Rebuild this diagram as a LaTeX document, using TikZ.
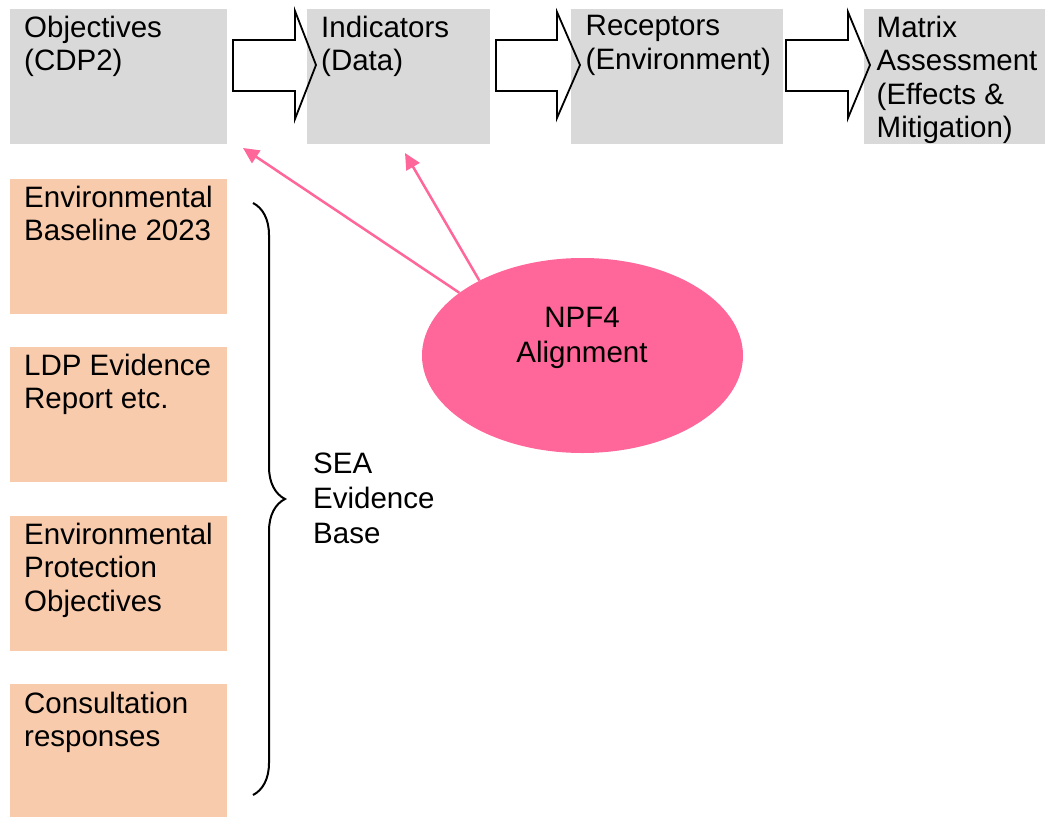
\documentclass[tikz,border=0pt]{standalone}
\usepackage{fontspec}
\setmainfont{Liberation Sans}
\usetikzlibrary{arrows.meta,calc,decorations.pathreplacing,shapes.geometric}
\definecolor{boxgrey}{HTML}{D9D9D9}
\definecolor{peach}{HTML}{F8CBAD}
\definecolor{npfpink}{HTML}{FF6699}
\tikzset{
  greybox/.style={rectangle, fill=boxgrey, draw=none, inner sep=0, anchor=north west},
  peachbox/.style={rectangle, fill=peach, draw=none, inner sep=0, anchor=north west, minimum width=217, minimum height=135},
  boxtext/.style={anchor=north west, inner sep=0, align=left, font=\fontsize{29.5}{33.6}\selectfont},
  looktext/.style={inner sep=0, font=\fontsize{29.5}{35}\selectfont},
  blockarr/.style={draw=black, line width=1.8, fill=none, line join=miter},
  pinkarr/.style={draw=npfpink, line width=2.5, -{Triangle[length=16,width=15]}},
  bracestyle/.style={draw=black, line width=2, decorate, decoration={brace, amplitude=32, aspect=0.5}}
}
\begin{document}
\begin{tikzpicture}[x=1pt, y=-1pt]
\useasboundingbox (0,0) rectangle (1045,817);
% top grey boxes
\node[greybox, minimum width=217, minimum height=135] (obj) at (10,9) {};
\node[greybox, minimum width=183, minimum height=135] (ind) at (307,9) {};
\node[greybox, minimum width=212, minimum height=135] (rec) at (571,9) {};
\node[greybox, minimum width=181, minimum height=135] (mat) at (864,9) {};
\node[boxtext] (objt) at ($(obj.north west)+(14,6.5)$) {Objectives\\(CDP2)};
\node[boxtext] (indt) at ($(ind.north west)+(14,6.5)$) {Indicators\\(Data)};
\node[boxtext] (rect) at ($(rec.north west)+(14.5,6.5)$) {Receptors\\(Environment)};
\node[boxtext] (matt) at ($(mat.north west)+(12.5,6.5)$) {Matrix\\Assessment\\(Effects \&\\Mitigation)};
% block arrows
\draw[blockarr] (233,40) -- (295,40) -- (295,11) -- (316,65) -- (295,119) -- (295,91) -- (233,91) -- cycle;
\draw[blockarr] (496,40) -- (557,40) -- (557,12) -- (580,65) -- (557,118) -- (557,91) -- (496,91) -- cycle;
\draw[blockarr] (786,40) -- (848,40) -- (848,12) -- (870,65) -- (848,118) -- (848,91) -- (786,91) -- cycle;
% peach boxes
\node[peachbox] (eb) at (10,179) {};
\node[peachbox] (ldp) at (10,347) {};
\node[peachbox] (epo) at (10,516) {};
\node[peachbox, minimum height=133] (cr) at (10,684) {};
\node[boxtext] (ebt) at ($(eb.north west)+(14,6.5)$) {Environmental\\Baseline 2023};
\node[boxtext] (ldpt) at ($(ldp.north west)+(14,6.5)$) {LDP Evidence\\Report etc.};
\node[boxtext] (epot) at ($(epo.north west)+(14,6.5)$) {Environmental\\Protection\\Objectives};
\node[boxtext] (crt) at ($(cr.north west)+(14,7.5)$) {Consultation\\responses};
% brace
\coordinate (bt) at (253,203);
\coordinate (bb) at (253,795);
\draw[bracestyle] (bt) -- (bb);
\node[looktext, anchor=north west, align=left] (sea) at (313,452.5) {SEA\\Evidence\\Base};
% NPF4 ellipse
\node[ellipse, fill=npfpink, draw=none, minimum width=321, minimum height=195, inner sep=0] (npf) at (582.5,355.5) {};
\node[looktext, anchor=north, align=center] (npft) at (582,306.5) {NPF4\\Alignment};
\coordinate (tipA) at (243,148);
\coordinate (tipB) at (405,153);
\draw[pinkarr] (npf.153) -- (tipA);
\draw[pinkarr] (npf.144.7) -- (tipB);
\end{tikzpicture}
\end{document}
